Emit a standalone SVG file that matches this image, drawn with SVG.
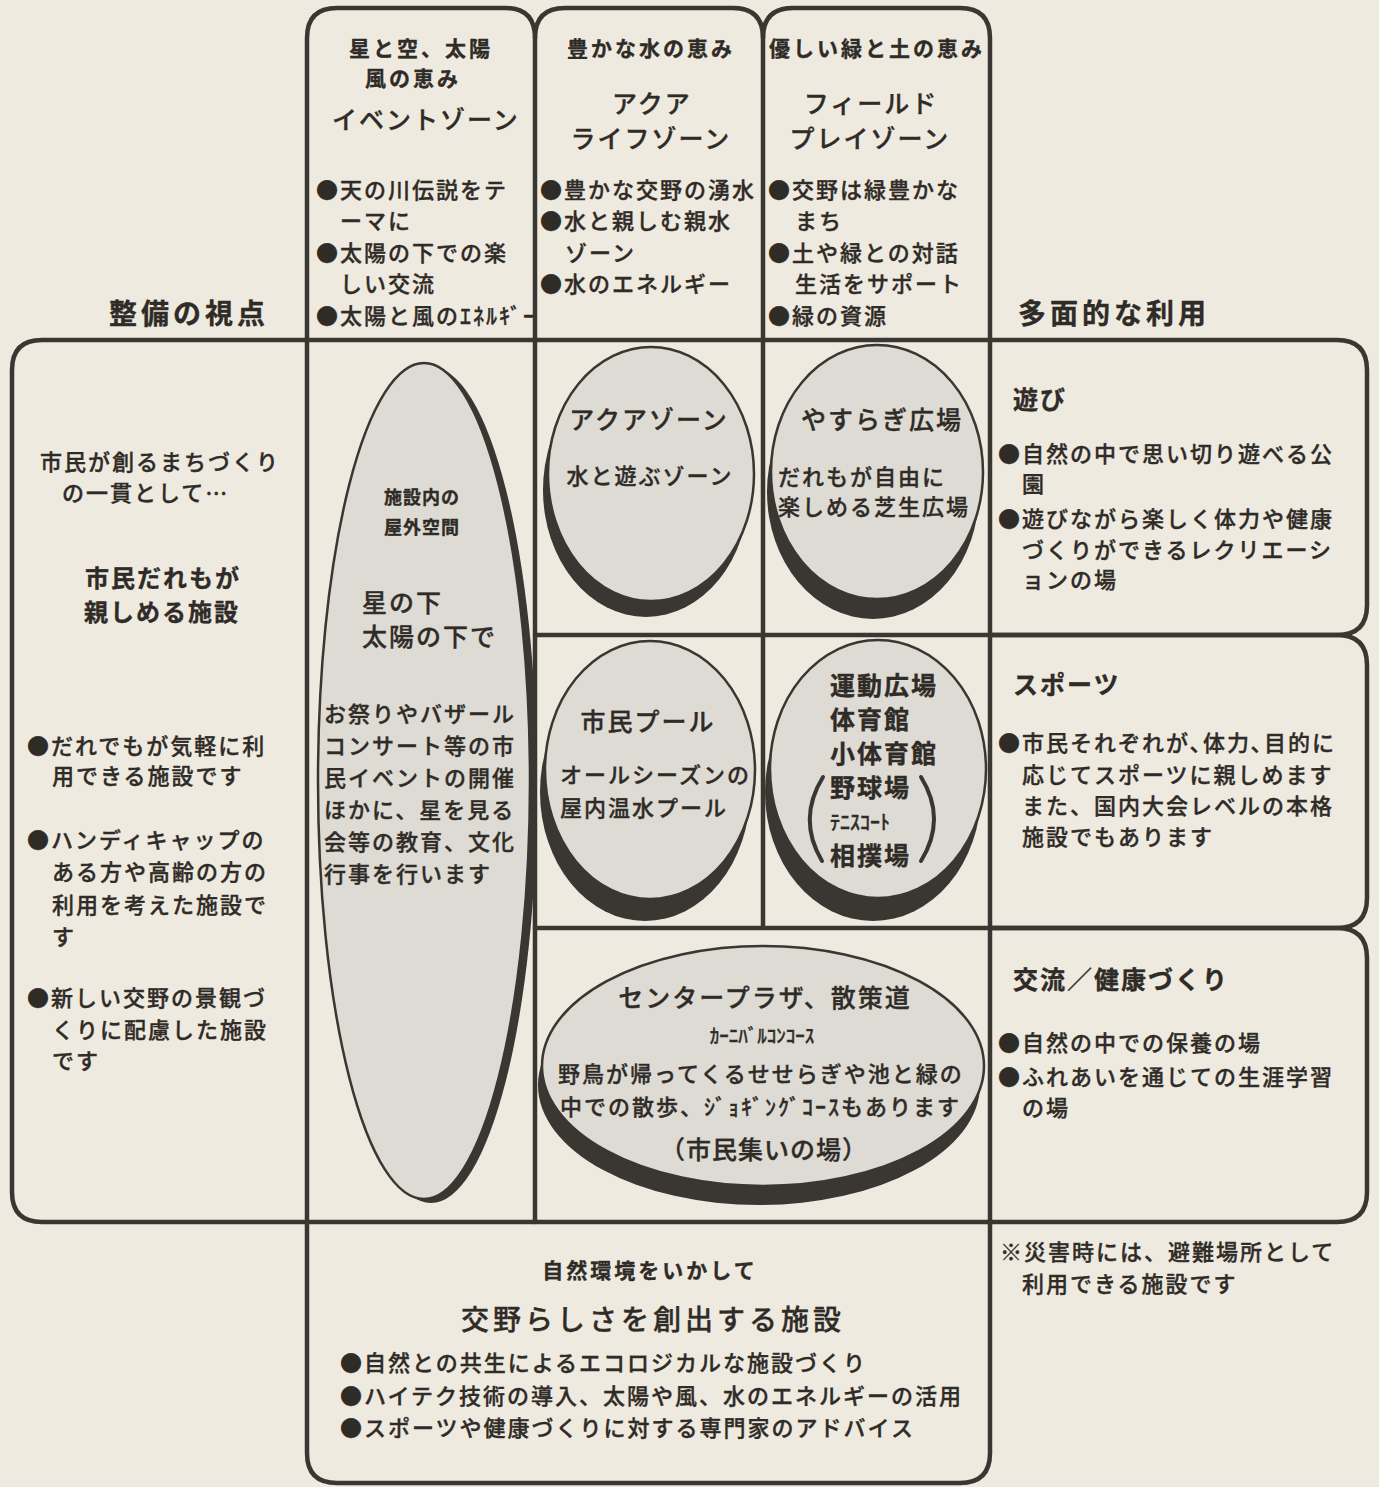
<svg xmlns="http://www.w3.org/2000/svg" width="1379" height="1487" viewBox="0 0 1379 1487">
<style>
text{font-family:"Noto Sans CJK JP","Noto Sans CJK SC",sans-serif;fill:#2f2b27;stroke:#2f2b27;stroke-width:0.35px}
.b{font-size:22px;letter-spacing:2px;font-weight:500}
.t{font-size:25px;letter-spacing:2px;font-weight:500}
.s{font-size:21px;letter-spacing:3px;font-weight:700}
.h{font-size:28px;letter-spacing:4px;font-weight:700}
.m{text-anchor:middle}
.fr{fill:none;stroke:#3a3631;stroke-width:4.5;stroke-linejoin:round;stroke-linecap:round}
.sh{fill:#3a3631}
.el{fill:#dedbd4;stroke:#3a3631;stroke-width:2.5}
</style>
<rect width="1379" height="1487" fill="#efeae0"/>

<g id="connectors" class="fr">
<path d="M307,340 V38 Q307,8 337,8 H505 Q535,8 535,38 V340"/>
<path d="M535,38 Q535,8 565,8 H733 Q763,8 763,38 V340"/>
<path d="M763,38 Q763,8 793,8 H960 Q990,8 990,38 V340"/>
<path d="M307,340 H42 Q12,340 12,370 V1192 Q12,1222 42,1222 H307"/>
<path d="M307,340 H990"/>
<path d="M307,1222 H990"/>
<path d="M307,340 V1222"/>
<path d="M535,340 V1222"/>
<path d="M763,340 V928"/>
<path d="M535,635 H990"/>
<path d="M535,928 H990"/>
<path d="M990,340 V1222"/>
<path d="M990,340 H1337 Q1367,340 1367,370 V605 Q1367,635 1337,635 H990"/>
<path d="M990,635 H1337 Q1367,635 1367,665 V898 Q1367,928 1337,928 H990"/>
<path d="M990,928 H1337 Q1367,928 1367,958 V1192 Q1367,1222 1337,1222 H990"/>
<path d="M307,1222 V1453 Q307,1483 337,1483 H960 Q990,1483 990,1453 V1222"/>
</g>

<g id="col-event">
<text class="s m" x="421" y="56">星と空、太陽</text>
<text class="s m" x="413" y="86">風の恵み</text>
<text class="t m" x="426" y="129">イベントゾーン</text>
<text class="b" x="316" y="198">●天の川伝説をテ</text>
<text class="b" x="340" y="229">ーマに</text>
<text class="b" x="316" y="261">●太陽の下での楽</text>
<text class="b" x="340" y="292">しい交流</text>
<text class="b" x="316" y="324">●太陽と風のｴﾈﾙｷﾞｰ</text>
</g>

<g id="col-aqua">
<text class="s m" x="651" y="56">豊かな水の恵み</text>
<text class="t m" x="652" y="113">アクア</text>
<text class="t m" x="651" y="148">ライフゾーン</text>
<text class="b" x="540" y="198">●豊かな交野の湧水</text>
<text class="b" x="540" y="229">●水と親しむ親水</text>
<text class="b" x="565" y="261">ゾーン</text>
<text class="b" x="540" y="292">●水のエネルギー</text>
</g>

<g id="col-field">
<text class="s m" x="877" y="56">優しい緑と土の恵み</text>
<text class="t m" x="871" y="113">フィールド</text>
<text class="t m" x="870" y="148">プレイゾーン</text>
<text class="b" x="768" y="198">●交野は緑豊かな</text>
<text class="b" x="795" y="229">まち</text>
<text class="b" x="768" y="261">●土や緑との対話</text>
<text class="b" x="795" y="292">生活をサポート</text>
<text class="b" x="768" y="324">●緑の資源</text>
</g>

<g id="label-left">
<text class="h m" x="189" y="324">整備の視点</text>
</g>
<g id="label-right">
<text class="h m" x="1114" y="324">多面的な利用</text>
</g>

<g id="left-box">
<text class="b m" x="160" y="470">市民が創るまちづくり</text>
<text class="b" x="62" y="501">の一貫として…</text>
<text class="m" x="163" y="587" style="font-size:24px;letter-spacing:2px;font-weight:700">市民だれもが</text>
<text class="m" x="162" y="621" style="font-size:24px;letter-spacing:2px;font-weight:700">親しめる施設</text>
<text class="b" x="27" y="754">●だれでもが気軽に利</text>
<text class="b" x="52" y="784">用できる施設です</text>
<text class="b" x="27" y="848">●ハンディキャップの</text>
<text class="b" x="52" y="880">ある方や高齢の方の</text>
<text class="b" x="52" y="913">利用を考えた施設で</text>
<text class="b" x="52" y="945">す</text>
<text class="b" x="27" y="1006">●新しい交野の景観づ</text>
<text class="b" x="52" y="1038">くりに配慮した施設</text>
<text class="b" x="52" y="1069">です</text>
</g>

<g id="outdoor-space">
<ellipse class="sh" cx="431" cy="785" rx="106" ry="418"/>
<ellipse class="el" cx="424" cy="781" rx="106" ry="418"/>
<text class="m" x="422" y="504" style="font-size:18px;font-weight:700;letter-spacing:1px">施設内の</text>
<text class="m" x="422" y="534" style="font-size:18px;font-weight:700;letter-spacing:1px">屋外空間</text>
<text class="t" x="362" y="612">星の下</text>
<text class="t" x="362" y="646">太陽の下で</text>
<text class="b" x="324" y="722">お祭りやバザール</text>
<text class="b" x="324" y="754">コンサート等の市</text>
<text class="b" x="324" y="786">民イベントの開催</text>
<text class="b" x="324" y="818">ほかに、星を見る</text>
<text class="b" x="324" y="850">会等の教育、文化</text>
<text class="b" x="324" y="882">行事を行います</text>
</g>

<g id="aqua-zone">
<ellipse class="sh" cx="646" cy="490" rx="103" ry="127"/>
<ellipse class="el" cx="651" cy="474" rx="103" ry="127"/>
<text class="t m" x="649" y="429">アクアゾーン</text>
<text class="b m" x="650" y="484">水と遊ぶゾーン</text>
</g>

<g id="yasuragi">
<ellipse class="sh" cx="873" cy="492" rx="106" ry="127"/>
<ellipse class="el" cx="877" cy="472" rx="106" ry="127"/>
<text class="t m" x="882" y="429">やすらぎ広場</text>
<text class="b" x="778" y="485">だれもが自由に</text>
<text class="b" x="778" y="515">楽しめる芝生広場</text>
</g>

<g id="pool">
<ellipse class="sh" cx="645" cy="792" rx="105" ry="129"/>
<ellipse class="el" cx="650" cy="770" rx="105" ry="129"/>
<text class="t m" x="648" y="731">市民プール</text>
<text class="b" x="560" y="783">オールシーズンの</text>
<text class="b" x="560" y="816">屋内温水プール</text>
</g>

<g id="sports-ground">
<ellipse class="sh" cx="873" cy="792" rx="108" ry="129"/>
<ellipse class="el" cx="878" cy="769" rx="108" ry="129"/>
<text class="t" x="830" y="695" style="font-weight:700;letter-spacing:2px">運動広場</text>
<text class="t" x="830" y="729" style="font-weight:700;letter-spacing:2px">体育館</text>
<text class="t" x="830" y="763" style="font-weight:700;letter-spacing:2px">小体育館</text>
<text class="t" x="830" y="797" style="font-weight:700;letter-spacing:2px">野球場</text>
<text x="830" y="830" style="font-size:20px;font-weight:500">ﾃﾆｽｺｰﾄ</text>
<text class="t" x="830" y="865" style="font-weight:700;letter-spacing:2px">相撲場</text>
<path class="fr" style="stroke-width:4" d="M823,777 Q797,819 822,861"/>
<path class="fr" style="stroke-width:4" d="M921,777 Q947,819 921,861"/>
</g>

<g id="center-plaza">
<ellipse class="sh" cx="759" cy="1085" rx="221" ry="120"/>
<ellipse class="el" cx="763" cy="1066" rx="221" ry="120"/>
<text class="t m" x="765" y="1007">センタープラザ、散策道</text>
<text class="m" x="762" y="1043" style="font-size:19px;font-weight:500">ｶｰﾆﾊﾞﾙｺﾝｺｰｽ</text>
<text class="b" x="558" y="1082">野鳥が帰ってくるせせらぎや池と緑の</text>
<text class="b" x="560" y="1115">中での散歩、ｼﾞｮｷﾞﾝｸﾞｺｰｽもあります</text>
<text class="t m" x="764" y="1159" style="letter-spacing:1px">（市民集いの場）</text>
</g>

<g id="play">
<text class="t" x="1013" y="409" style="font-weight:700">遊び</text>
<text class="b" x="998" y="462">●自然の中で思い切り遊べる公</text>
<text class="b" x="1022" y="492">園</text>
<text class="b" x="998" y="527">●遊びながら楽しく体力や健康</text>
<text class="b" x="1022" y="558">づくりができるレクリエーシ</text>
<text class="b" x="1022" y="588">ョンの場</text>
</g>

<g id="sports">
<text class="t" x="1013" y="694" style="font-weight:700">スポーツ</text>
<text class="b" x="998" y="751">●市民それぞれが､体力､目的に</text>
<text class="b" x="1022" y="783">応じてスポーツに親しめます</text>
<text class="b" x="1022" y="814">また、国内大会レベルの本格</text>
<text class="b" x="1022" y="845">施設でもあります</text>
</g>

<g id="exchange">
<text class="t" x="1013" y="989" style="font-weight:700">交流／健康づくり</text>
<text class="b" x="998" y="1051">●自然の中での保養の場</text>
<text class="b" x="998" y="1085">●ふれあいを通じての生涯学習</text>
<text class="b" x="1022" y="1116">の場</text>
</g>

<g id="bottom-box">
<text class="m" x="650" y="1278" style="font-size:21px;font-weight:700;letter-spacing:3px">自然環境をいかして</text>
<text class="h m" x="653" y="1330" style="font-weight:500">交野らしさを創出する施設</text>
<text class="b" x="340" y="1371">●自然との共生によるエコロジカルな施設づくり</text>
<text class="b" x="340" y="1404">●ハイテク技術の導入、太陽や風、水のエネルギーの活用</text>
<text class="b" x="340" y="1436">●スポーツや健康づくりに対する専門家のアドバイス</text>
</g>

<g id="note">
<text class="b" x="1000" y="1260">※災害時には、避難場所として</text>
<text class="b" x="1022" y="1292">利用できる施設です</text>
</g>
</svg>
